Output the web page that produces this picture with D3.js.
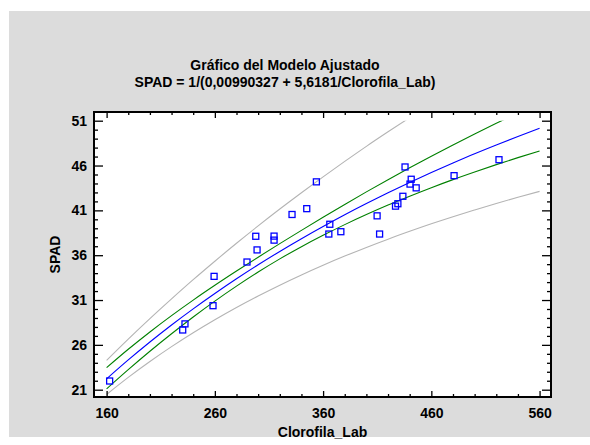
<!DOCTYPE html>
<html>
<head>
<meta charset="utf-8">
<script src="https://cdn.jsdelivr.net/npm/d3@7/dist/d3.min.js"></script>
<style>
  html, body { margin: 0; padding: 0; background: #ffffff; }
  svg { display: block; }
  text { font-family: Arial, "Liberation Sans", sans-serif; font-weight: bold; fill: #000; }
</style>
</head>
<body>
<script>
// Observed data: Clorofila_Lab vs SPAD
const clorofila = [162.8, 230.3, 232.4, 258.3, 259.3, 289.7, 297.8, 299.0, 314.7, 314.7,
                   331.3, 344.9, 353.8, 366.2, 365.3, 376.4, 409.9, 412.2, 426.9, 429.1,
                   433.7, 435.7, 441.4, 440.3, 446.0, 481.0, 522.5];
const spad = [21.97, 27.66, 28.34, 30.37, 33.64, 35.24, 38.11, 36.59, 38.13, 37.68,
              40.54, 41.19, 44.18, 39.45, 38.36, 38.62, 40.39, 38.36, 41.47, 41.74,
              42.57, 45.84, 44.47, 43.93, 43.51, 44.87, 46.65];

// Curve abscissae
const curveX = [160, 180, 200, 220, 240, 260, 280, 300, 320, 340, 360,
                380, 400, 420, 440, 460, 480, 500, 520, 540, 560];
// Fitted model SPAD = 1/(0,00990327 + 5,6181/Clorofila_Lab)
const fitted = [22.21, 24.32, 26.32, 28.22, 30.02, 31.73, 33.37, 34.93, 36.42, 37.84, 39.20,
                40.51, 41.76, 42.96, 44.11, 45.22, 46.28, 47.31, 48.29, 49.24, 50.16];
// Confidence limits for the mean
const confUpper = [23.46, 25.51, 27.44, 29.26, 30.99, 32.64, 34.23, 35.78, 37.29, 38.77, 40.23,
                   41.66, 43.06, 44.42, 45.75, 47.04, 48.30, 49.52, 50.71, 51.86, 52.99];
const confLower = [21.10, 23.24, 25.29, 27.24, 29.11, 30.88, 32.55, 34.12, 35.59, 36.95, 38.22,
                   39.41, 40.53, 41.59, 42.58, 43.53, 44.43, 45.28, 46.10, 46.88, 47.62];
// Prediction limits
const predUpperX = [160, 180, 200, 220, 240, 260, 280, 300, 320, 340, 360, 380, 400, 420, 440, 460];
const predUpper = [24.28, 26.65, 28.93, 31.13, 33.27, 35.33, 37.33, 39.27, 41.15, 42.97, 44.74,
                   46.46, 48.14, 49.76, 51.34, 52.87];
const predLower = [20.47, 22.37, 24.14, 25.80, 27.35, 28.80, 30.17, 31.45, 32.66, 33.80, 34.88,
                   35.90, 36.87, 37.79, 38.66, 39.50, 40.29, 41.04, 41.77, 42.46, 43.12];

// Axis ticks
const xMajor = [160, 260, 360, 460, 560];
const yMajor = [21, 26, 31, 36, 41, 46, 51];

const W = 590, H = 445;
const plot = { left: 94, right: 551, top: 112, bottom: 397 };

const svg = d3.select("body").append("svg").attr("width", W).attr("height", H);

// Gray panel
svg.append("rect").attr("x", 9).attr("y", 11).attr("width", W - 9).attr("height", 426)
  .attr("fill", "#dcdcdc");

// Plot background
svg.append("rect")
  .attr("x", plot.left).attr("y", plot.top)
  .attr("width", plot.right - plot.left).attr("height", plot.bottom - plot.top)
  .attr("fill", "#ffffff");

const x = d3.scaleLinear().domain([148.35, 570.55]).range([plot.left, plot.right]);
const y = d3.scaleLinear().domain([20.186, 51.97]).range([plot.bottom, plot.top]);

// Curves are shown only up to the top tick value
svg.append("clipPath").attr("id", "clip")
  .append("rect")
  .attr("x", plot.left).attr("y", y(51))
  .attr("width", plot.right - plot.left).attr("height", plot.bottom - y(51));

const curves = svg.append("g").attr("clip-path", "url(#clip)");
const line = (xs, ys) => d3.line()
  .x((d, i) => x(xs[i]))
  .y(d => y(d))
  .curve(d3.curveMonotoneX)(ys);

const series = [
  { xs: predUpperX, ys: predUpper, color: "#b4b4b4" },
  { xs: curveX, ys: predLower, color: "#b4b4b4" },
  { xs: curveX, ys: confUpper, color: "#008000" },
  { xs: curveX, ys: confLower, color: "#008000" },
  { xs: curveX, ys: fitted, color: "#0000ff" }
];
series.forEach(s => {
  curves.append("path").attr("d", line(s.xs, s.ys))
    .attr("fill", "none").attr("stroke", s.color).attr("stroke-width", 1.1);
});

// Observed points
svg.append("g").selectAll("rect").data(clorofila).join("rect")
  .attr("x", (d, i) => x(d) - 3)
  .attr("y", (d, i) => y(spad[i]) - 3)
  .attr("width", 6).attr("height", 6)
  .attr("fill", "none").attr("stroke", "#0000ff").attr("stroke-width", 1.3);

// Axes (ticks pointing inward on all four sides)
const xMinor = d3.range(140, 581, 20).filter(v => v > x.domain()[0] && v < x.domain()[1] && !xMajor.includes(v));
const yMinor = d3.range(20, 53, 1).filter(v => v > y.domain()[0] && v < y.domain()[1] && !yMajor.includes(v));

const gBottom = svg.append("g").attr("transform", `translate(0,${plot.bottom})`);
gBottom.call(d3.axisBottom(x).tickValues(xMajor).tickSize(-6).tickPadding(11).tickFormat(d3.format("d")));
gBottom.append("g").call(d3.axisBottom(x).tickValues(xMinor).tickSize(-3).tickFormat(""));

const gTop = svg.append("g").attr("transform", `translate(0,${plot.top})`);
gTop.call(d3.axisTop(x).tickValues(xMajor).tickSize(-6).tickFormat(""));
gTop.append("g").call(d3.axisTop(x).tickValues(xMinor).tickSize(-3).tickFormat(""));

const gLeft = svg.append("g").attr("transform", `translate(${plot.left},0)`);
gLeft.call(d3.axisLeft(y).tickValues(yMajor).tickSize(-9).tickPadding(7).tickFormat(d3.format("d")));
gLeft.append("g").call(d3.axisLeft(y).tickValues(yMinor).tickSize(-4).tickFormat(""));

const gRight = svg.append("g").attr("transform", `translate(${plot.right},0)`);
gRight.call(d3.axisRight(y).tickValues(yMajor).tickSize(-9).tickFormat(""));
gRight.append("g").call(d3.axisRight(y).tickValues(yMinor).tickSize(-4).tickFormat(""));

svg.selectAll(".domain").remove();
svg.selectAll(".tick line").attr("stroke", "#000").attr("stroke-width", 1.3);
svg.selectAll(".tick text").attr("font-size", 14).attr("font-family", "Arial, 'Liberation Sans', sans-serif")
  .attr("font-weight", "bold").attr("fill", "#000");

// Frame
svg.append("rect")
  .attr("x", plot.left).attr("y", plot.top)
  .attr("width", plot.right - plot.left).attr("height", plot.bottom - plot.top)
  .attr("fill", "none").attr("stroke", "#000").attr("stroke-width", 2);

// Titles
svg.append("text").attr("x", 285).attr("y", 70).attr("text-anchor", "middle")
  .attr("font-size", 14).text("Gráfico del Modelo Ajustado");
svg.append("text").attr("x", 285).attr("y", 87).attr("text-anchor", "middle")
  .attr("font-size", 14).text("SPAD = 1/(0,00990327 + 5,6181/Clorofila_Lab)");

svg.append("text").attr("x", (plot.left + plot.right) / 2).attr("y", 437).attr("text-anchor", "middle")
  .attr("font-size", 14).text("Clorofila_Lab");
svg.append("text").attr("transform", `translate(60,${(plot.top + plot.bottom) / 2}) rotate(-90)`)
  .attr("text-anchor", "middle").attr("font-size", 14).text("SPAD");
</script>
</body>
</html>
